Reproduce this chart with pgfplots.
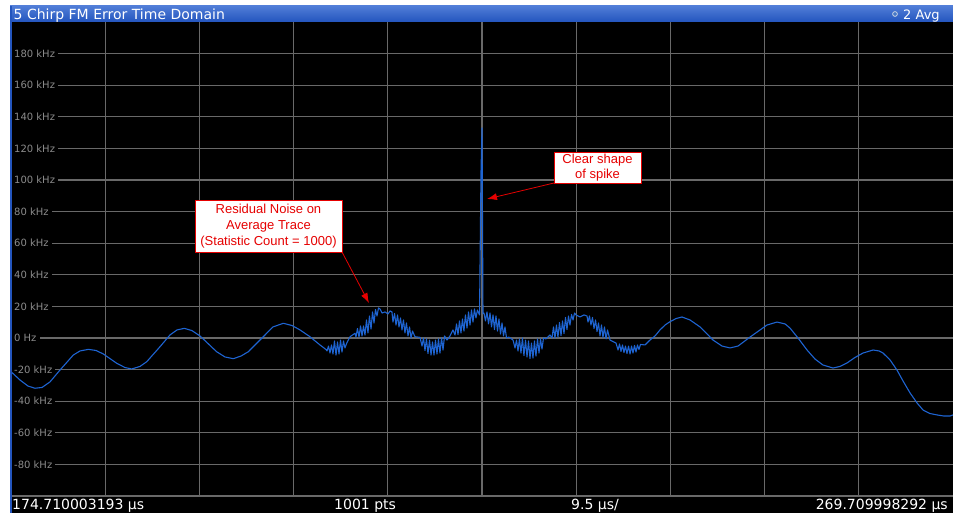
\documentclass[border=0pt]{standalone}
\usepackage{pgfplots}
\pgfplotsset{compat=1.18}
\usepackage{pgfplotstable}
\usetikzlibrary{arrows.meta}
\usepackage{fontspec}
\setmainfont{DejaVu Sans}
\newfontfamily\arialfont{Liberation Sans}
\definecolor{trace}{RGB}{30,100,210}
\definecolor{gridc}{RGB}{105,105,105}
\definecolor{tickc}{RGB}{140,140,140}
\definecolor{barTop}{RGB}{80,125,215}
\definecolor{barBot}{RGB}{35,85,190}
\definecolor{annred}{RGB}{230,0,0}
\definecolor{dotfill}{RGB}{70,120,200}
\definecolor{dotring}{RGB}{200,210,225}

% t: time since sweep start (us), f: FM error (kHz)
\pgfplotstableread{
t f
0.00 -21.3
0.91 -26.6
1.71 -30.4
2.42 -31.8
3.13 -31.3
3.93 -27.8
4.94 -20.3
6.28 -10.8
6.96 -8.2
7.80 -7.2
8.57 -7.9
9.31 -10.1
10.66 -16.0
11.50 -18.7
12.17 -19.6
13.01 -18.0
13.69 -15.0
15.03 -5.5
16.03 1.9
16.74 5.1
17.48 6.1
18.25 4.7
19.06 1.3
20.74 -8.7
21.58 -12.0
22.42 -13.1
23.20 -11.4
23.93 -8.7
25.44 0.8
26.42 7.0
27.46 9.3
28.34 7.9
29.15 5.1
30.15 0.8
31.16 -4.4
31.77 -7.3
31.87 -8.2
32.02 -5.1
32.17 -9.5
32.32 -4.4
32.47 -10.1
32.62 -1.9
32.78 -10.8
32.93 -2.5
33.08 -10.1
33.23 -1.3
33.38 -8.9
33.53 -1.9
33.68 -6.3
33.85 -3.4
34.19 0.8
34.69 3.0
34.79 0.6
34.94 6.0
35.10 0.6
35.25 7.6
35.40 1.3
35.55 7.6
35.70 1.9
35.85 11.4
36.00 3.2
36.15 13.9
36.31 5.7
36.46 16.5
36.61 9.5
36.76 18.0
36.91 13.9
37.06 19.0
37.21 18.4
37.42 15.8
37.72 16.5
38.02 15.2
38.22 17.1
38.42 16.5
38.52 10.1
38.68 15.5
38.83 8.2
38.98 14.6
39.13 7.0
39.28 12.7
39.43 5.1
39.58 11.4
39.73 3.2
39.88 9.5
40.04 1.3
40.19 7.0
40.34 0.0
40.49 4.4
40.74 0.8
41.25 0.4
41.45 -5.1
41.60 0.0
41.75 -7.9
41.90 -0.6
42.05 -9.8
42.21 -1.3
42.36 -10.8
42.51 -2.5
42.66 -10.8
42.81 -1.3
42.96 -10.1
43.11 -0.6
43.26 -9.5
43.42 0.0
43.57 -7.6
43.72 1.3
43.97 -1.3
44.27 1.3
44.57 5.1
44.78 1.9
44.93 8.9
45.08 2.2
45.23 10.8
45.38 3.2
45.53 12.0
45.68 4.4
45.83 14.6
45.99 6.3
46.14 16.5
46.29 8.2
46.44 17.7
46.59 10.1
46.74 18.4
46.89 12.7
47.04 17.7
47.25 14.6
47.40 105.0
47.50 133.0
47.60 15.5
47.70 15.8
47.85 10.8
48.00 16.5
48.16 8.9
48.31 15.8
48.46 7.0
48.61 14.6
48.76 5.4
48.91 13.9
49.06 4.4
49.21 12.0
49.37 2.5
49.52 9.5
49.67 1.3
49.82 7.0
49.97 0.0
50.20 0.6
50.63 -1.3
50.83 -6.3
50.98 -1.3
51.13 -8.2
51.28 -0.6
51.43 -9.5
51.58 0.0
51.73 -11.1
51.89 -1.3
52.04 -12.0
52.19 -1.9
52.34 -13.0
52.49 -3.2
52.64 -12.7
52.79 -1.9
52.94 -11.4
53.10 -0.6
53.25 -9.5
53.40 -0.6
53.55 -7.0
53.70 0.0
53.95 -0.6
54.36 1.9
54.56 0.0
54.71 7.0
54.86 0.0
55.01 8.2
55.16 0.6
55.32 9.8
55.47 1.6
55.62 10.8
55.77 2.8
55.92 13.0
56.07 5.4
56.22 13.9
56.37 8.2
56.53 14.9
56.68 11.4
56.83 15.8
56.98 14.6
57.38 13.3
57.79 14.6
58.09 13.9
58.19 10.1
58.34 13.9
58.49 8.2
58.64 13.0
58.80 6.0
58.95 11.4
59.10 4.1
59.25 9.5
59.40 1.3
59.55 8.2
59.70 0.3
59.85 7.0
60.01 -0.6
60.16 5.1
60.41 -1.3
61.01 -3.2
61.22 -7.6
61.37 -3.8
61.52 -8.5
61.67 -4.4
61.82 -9.2
61.97 -5.1
62.12 -9.8
62.28 -5.1
62.43 -10.1
62.58 -5.1
62.73 -9.5
62.88 -4.7
63.03 -8.9
63.18 -4.4
63.33 -7.3
63.48 -4.1
63.94 -4.4
64.44 -1.3
64.95 1.3
65.45 5.1
65.96 8.2
66.46 10.3
67.07 12.3
67.67 13.3
68.48 11.4
69.49 7.0
70.80 -1.3
71.70 -5.1
72.51 -6.3
73.32 -5.1
74.53 0.6
76.24 8.2
77.25 10.1
78.06 8.9
78.56 6.3
79.37 0.0
80.28 -7.6
81.08 -13.3
81.89 -17.1
82.90 -19.0
83.60 -18.0
84.31 -15.8
85.12 -12.3
85.93 -9.5
86.94 -7.6
87.54 -8.2
87.94 -9.5
88.65 -13.9
89.35 -20.3
89.96 -27.2
90.67 -34.8
91.37 -41.1
91.98 -45.6
92.68 -47.8
93.39 -48.7
94.09 -49.4
94.70 -49.4
95.00 -48.7
}\tracedata

\begin{document}
\begin{tikzpicture}
\begin{axis}[
  set layers,
  scale only axis, width=942pt, height=474pt,
  at={(0pt,0pt)}, anchor=south west,
  xmin=0, xmax=95, ymin=-100, ymax=200,
  axis background/.style={fill=black},
  axis line style={draw=none},
  xtick={9.5,19,28.5,38,47.5,57,66.5,76,85.5},
  xticklabel=\empty,
  ytick={-80,-60,...,180},
  yticklabels={{-80 kHz},{-60 kHz},{-40 kHz},{-20 kHz},{0 Hz},{20 kHz},{40 kHz},{60 kHz},{80 kHz},{100 kHz},{120 kHz},{140 kHz},{160 kHz},{180 kHz}},
  major tick length=0pt,
  grid=major,
  major grid style={draw=gridc, line width=1.3pt},
  yticklabel style={anchor=west, xshift=0pt, fill=black, inner xsep=3pt, inner ysep=1pt, text=tickc, font=\fontsize{10}{12}\selectfont},
]
\addplot[trace, line width=1.1pt, line join=round] table[x=t,y=f] {\tracedata};
\end{axis}
\begin{scope}[x=1pt,y=1pt]
  % bottom bar
  \fill[black] (0,-17) rectangle (942,0);
  \draw[gridc, line width=1.3pt] (0,0) -- (942,0);
  % title bar
  \shade[top color=barTop, bottom color=barBot] (-1,474) rectangle (942,490);
  % left border
  \fill[barBot] (-1,-17) rectangle (1,490);
  \node[anchor=base west, text=white, inner sep=0pt, font=\fontsize{14}{16}\selectfont] at (2.5,476.7) {5 Chirp FM Error Time Domain};
  \filldraw[fill=dotfill, draw=dotring, line width=0.8pt] (884,482) circle (2.4pt);
  \node[anchor=base west, text=white, inner sep=0pt, font=\fontsize{13}{15}\selectfont] at (892,476.7) {2 Avg};
  % bottom texts
  \node[anchor=base west, text=white, inner sep=0pt, font=\fontsize{14}{16}\selectfont] at (1,-14) {174.710003193 µs};
  \node[anchor=base west, text=white, inner sep=0pt, font=\fontsize{14}{16}\selectfont] at (323,-14) {1001 pts};
  \node[anchor=base west, text=white, inner sep=0pt, font=\fontsize{14}{16}\selectfont] at (560,-14) {9.5 µs/};
  \node[anchor=base east, text=white, inner sep=0pt, font=\fontsize{14}{16}\selectfont] at (937,-14) {269.709998292 µs};
  % annotations
  \draw[annred, line width=0.8pt, -{Latex[length=10pt,width=7pt]}] (331,244) -- (358,193);
  \node[draw=annred, fill=white, line width=0.9pt, text=annred, align=center, inner sep=0pt,
        font=\arialfont\fontsize{13}{16}\selectfont, minimum width=147pt, minimum height=52pt]
        at (257.5,270) {Residual Noise on\\Average Trace\\(Statistic Count = 1000)};
  \draw[annred, line width=0.8pt, -{Latex[length=10pt,width=7pt]}] (543,313) -- (476,297);
  \node[draw=annred, fill=white, line width=0.9pt, text=annred, align=center, inner sep=0pt,
        font=\arialfont\fontsize{13}{15}\selectfont, minimum width=87pt, minimum height=31pt]
        at (586.5,328.5) {Clear shape\\of spike};
\end{scope}
\pgfresetboundingbox
\path[use as bounding box] (-11pt,-17pt) rectangle (942pt,496pt);
\end{tikzpicture}
\end{document}
